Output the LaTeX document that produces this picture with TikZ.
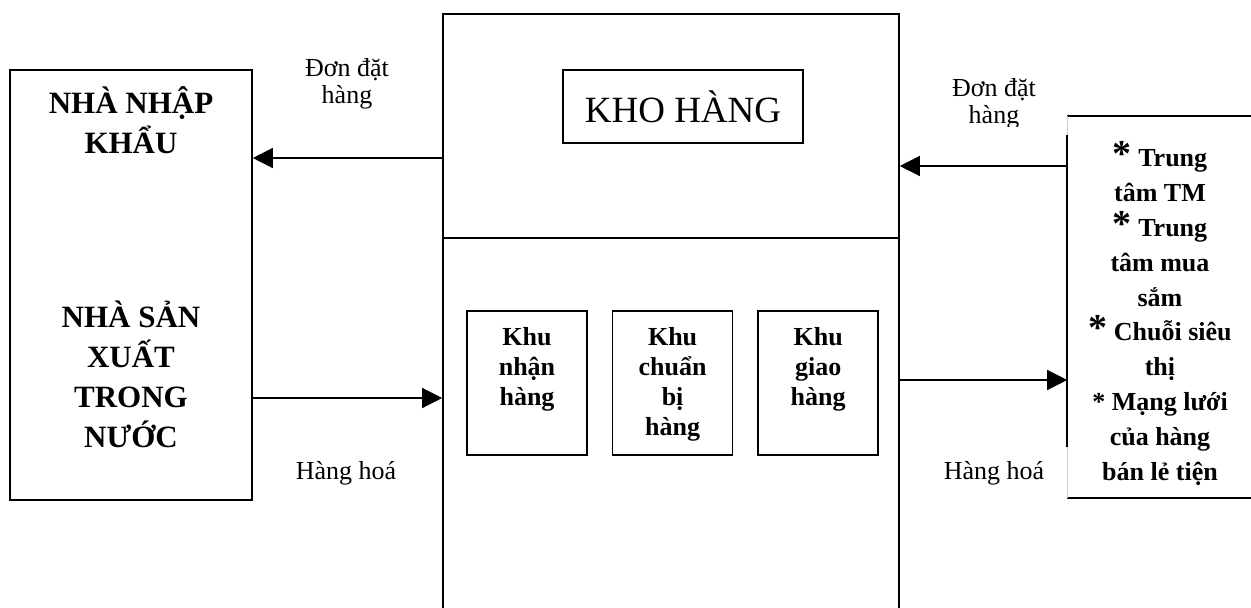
\documentclass[tikz,border=0pt]{standalone}
\usepackage{fontspec}
\setmainfont{Liberation Serif}
\usetikzlibrary{positioning, arrows.meta}

\newcommand{\bigasterisk}{{\fontsize{38}{30}\selectfont *}}

\begin{document}
\begin{tikzpicture}[x=1pt, y=-1pt, line width=1.6pt,
  frame/.style={draw, rectangle, inner sep=0pt},
  zone/.style={frame, minimum width=120pt, minimum height=144pt},
  head text/.style={font=\fontsize{31}{40}\selectfont\bfseries, align=center, inner sep=0pt, anchor=north},
  zone text/.style={font=\fontsize{26}{30}\selectfont\bfseries, align=center, inner sep=0pt, anchor=north},
  shop text/.style={font=\fontsize{26}{34.8}\selectfont\bfseries, align=center, inner sep=0pt, anchor=north},
  flow text/.style={font=\fontsize{26}{27}\selectfont, align=center, inner sep=0pt},
  flow/.style={-{Triangle[length=20pt, width=20pt]}, line width=1.3pt}]

\clip (0,0) rectangle (1251,608);

% nha cung cap
\node[frame, minimum width=242pt, minimum height=430pt] (supplier) at (131,285) {};
\node[head text] (importer) at (131,86) {NHÀ NHẬP\\KHẨU};
\node[head text] (producer) at (131,300) {NHÀ SẢN\\XUẤT\\TRONG\\NƯỚC};

% kho hang
\node[frame, minimum width=456pt, minimum height=626pt] (warehouse) at (671,327) {};
\draw (warehouse.west |- 0,238) -- (warehouse.east |- 0,238);
\node[frame, minimum width=240pt, minimum height=73pt, font=\fontsize{37}{40}\selectfont] (store) at (683,106.5) {KHO HÀNG};

\node[zone] (receive) at (527,383) {};
\node[zone] (prepare) [right=24pt of receive] {};
\node[zone] (deliver) [right=24pt of prepare] {};
\node[zone text] at ([yshift=-16pt]receive.north) {Khu\\nhận\\hàng};
\node[zone text] at ([yshift=-16pt]prepare.north) {Khu\\chuẩn\\bị\\hàng};
\node[zone text] at ([yshift=-16pt]deliver.north) {Khu\\giao\\hàng};

% ban le
\node[minimum width=183pt, minimum height=380pt, inner sep=0pt] (retail) at (1159.5,307) {};
\fill[white] (retail.north west) rectangle (retail.south east);
\draw (retail.north west) -- (retail.north east);
\draw (retail.south west) -- (retail.south east);
\draw[gray!40, line width=0.6pt] (retail.north west) -- (retail.south west);
\draw (retail.west |- 0,135) -- (retail.west |- 0,447);
\begin{scope}
  \clip (retail.north west) rectangle ([yshift=6pt]retail.south east);
  \node[shop text] (shops) at (1160,141) {\bigasterisk{} Trung\\tâm TM\\\bigasterisk{} Trung\\tâm mua\\sắm\\\bigasterisk{} Chuỗi siêu\\thị\\{}* Mạng lưới\\của hàng\\bán lẻ tiện\\lợi};
\end{scope}

% luong hang va don hang
\draw[flow] (warehouse.west |- 0,158) -- (supplier.east |- 0,158);
\draw[flow] (supplier.east |- 0,398) -- (warehouse.west |- 0,398);
\draw[flow] (retail.west |- 0,166) -- (warehouse.east |- 0,166);
\draw[flow] (warehouse.east |- 0,380) -- (retail.west |- 0,380);

\node[flow text, anchor=north] (order1) at (347,58) {Đơn đặt\\hàng};
\node[flow text, anchor=base] (goods1) at (346,479) {Hàng hoá};
\begin{scope}
  \clip (900,0) rectangle (1066,126);
  \node[flow text, anchor=north] (order2) at (994,78) {Đơn đặt\\hàng};
\end{scope}
\node[flow text, anchor=base] (goods2) at (994,479) {Hàng hoá};

\end{tikzpicture}
\end{document}
